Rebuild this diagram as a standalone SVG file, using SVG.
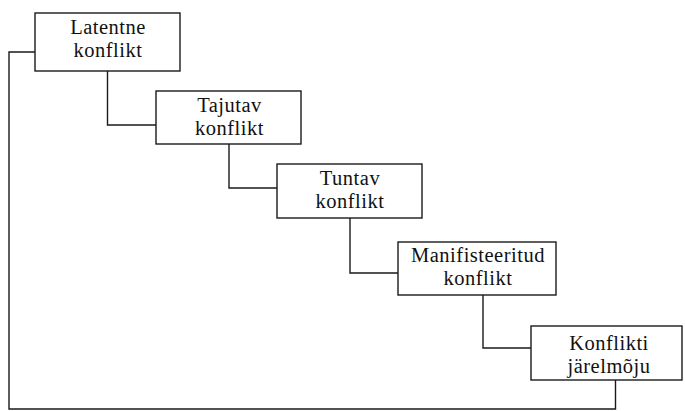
<svg xmlns="http://www.w3.org/2000/svg" width="685" height="411" viewBox="0 0 685 411">
<style>
.box{fill:#fff;stroke:#1a1a1a;stroke-width:1.4}
.con{fill:none;stroke:#1a1a1a;stroke-width:1.4}
text{font-family:"Liberation Serif","Times New Roman",serif;font-size:20.5px;letter-spacing:0.5px;fill:#111;text-anchor:middle}
</style>
<rect width="685" height="411" fill="#fff"/>
<g id="connectors">
<polyline class="con" points="107.5,71 107.5,125 156,125"/>
<polyline class="con" points="229,144 229,188 277,188"/>
<polyline class="con" points="350,218 350,273 398,273"/>
<polyline class="con" points="483,295 483,348 531,348"/>
<polyline class="con" points="615.5,380 615.5,409 9,409 9,52 35,52"/>
</g>
<g id="latentne">
<rect class="box" x="35" y="13" width="145" height="58"/>
<text x="108" y="33.5">Latentne</text>
<text x="108" y="57">konflikt</text>
</g>
<g id="tajutav">
<rect class="box" x="156" y="91" width="145" height="53"/>
<text x="229.5" y="112">Tajutav</text>
<text x="229.5" y="135">konflikt</text>
</g>
<g id="tuntav">
<rect class="box" x="277" y="164" width="145" height="54"/>
<text x="350" y="185">Tuntav</text>
<text x="350" y="208">konflikt</text>
</g>
<g id="manifisteeritud">
<rect class="box" x="398" y="242" width="158" height="53"/>
<text x="478" y="262">Manifisteeritud</text>
<text x="478" y="285">konflikt</text>
</g>
<g id="jarelmoju">
<rect class="box" x="531" y="326" width="151" height="54"/>
<text x="609" y="349.5">Konflikti</text>
<text x="609" y="372.5">järelmõju</text>
</g>
</svg>
